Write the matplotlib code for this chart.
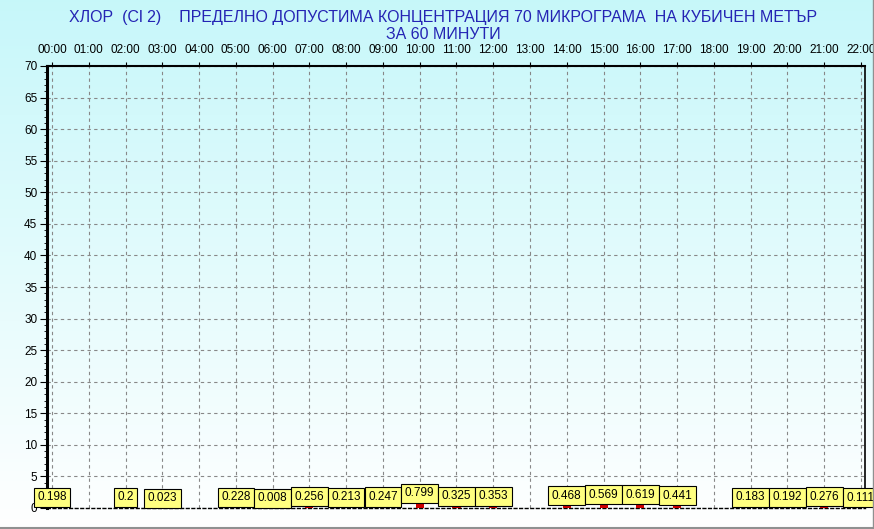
import numpy as np
import matplotlib.pyplot as plt
from matplotlib.lines import Line2D

# часове и стойности (микрограма/м3), None = няма данни
hours = list(range(23))
hour_labels = ["%02d:00" % h for h in hours]
values = [0.198, None, 0.2, 0.023, None, 0.228, 0.008, 0.256, 0.213, 0.247,
          0.799, 0.325, 0.353, None, 0.468, 0.569, 0.619, 0.441, None,
          0.183, 0.192, 0.276, 0.111]
value_labels = ["0.198", "", "0.2", "0.023", "", "0.228", "0.008", "0.256", "0.213", "0.247",
                "0.799", "0.325", "0.353", "", "0.468", "0.569", "0.619", "0.441", "",
                "0.183", "0.192", "0.276", "0.111"]

title = ("ХЛОР  (Cl 2)    ПРЕДЕЛНО ДОПУСТИМА КОНЦЕНТРАЦИЯ 70 МИКРОГРАМА  НА КУБИЧЕН МЕТЪР\n"
         "ЗА 60 МИНУТИ")

plt.rcParams['font.family'] = ['Liberation Sans', 'DejaVu Sans']

fig = plt.figure(figsize=(8.74, 5.29), dpi=100)

# фон - градиент от светло синьо към бяло
bg = fig.add_axes([0, 0, 1, 1], zorder=0)
grad = np.linspace(0, 1, 256).reshape(-1, 1)
top = np.array([0.78, 0.97, 0.98])
bot = np.array([1.0, 1.0, 1.0])
img = top[None, None, :] * (1 - grad[:, :, None]) + bot[None, None, :] * grad[:, :, None]
bg.imshow(img, aspect='auto', extent=[0, 1, 0, 1], origin='upper')
bg.axis('off')

fig.text(0.507, 0.982, title, ha='center', va='top', fontsize=11.5,
         color='#2424b4', linespacing=1.2)

ax = fig.add_axes([47 / 874, 1 - 508 / 529, (865 - 47) / 874, (508 - 66) / 529], zorder=1)
ax.set_facecolor('none')

xs = [h for h, v in zip(hours, values) if v is not None]
ys = [v for v in values if v is not None]
ax.bar(xs, ys, width=0.22, color='#cc0000', zorder=3)

for h, v, lab in zip(hours, values, value_labels):
    if v is None:
        continue
    ax.annotate(lab, xy=(h, v), xytext=(0, 2.5), textcoords='offset points',
                ha='center', va='bottom', fontsize=8.5, zorder=5,
                bbox=dict(boxstyle='square,pad=0.3', fc='#ffff80', ec='black', lw=0.8))

ax.set_xlim(-0.136, 22.11)
ax.set_ylim(0, 70)
ax.xaxis.tick_top()
ax.set_xticks(hours)
ax.set_xticklabels(hour_labels, fontsize=8.5)
ax.tick_params(axis='x', length=3, pad=4)
ax.set_yticks(range(0, 71, 5))
ax.set_yticks(range(0, 71, 1), minor=True)
ax.tick_params(axis='y', which='major', length=5, labelsize=8.5, pad=2)
ax.tick_params(axis='y', which='minor', length=2)

ax.grid(True, which='major', color='#888888', linestyle=(0, (3, 3)), linewidth=0.8)

ax.spines['left'].set_linewidth(2.2)
ax.spines['top'].set_linewidth(1.5)
ax.spines['top'].set_linestyle((0, (4, 1)))
ax.spines['right'].set_linewidth(1.2)
ax.spines['bottom'].set_linewidth(1)
ax.spines['bottom'].set_linestyle((0, (2, 2)))

# сива рамка долу и вдясно
fig.add_artist(Line2D([0, 1], [1.5 / 529, 1.5 / 529], color='#909090', lw=1.5))
fig.add_artist(Line2D([872.5 / 874, 872.5 / 874], [0, 1], color='#909090', lw=1))

fig.savefig('out.png', dpi=100)
